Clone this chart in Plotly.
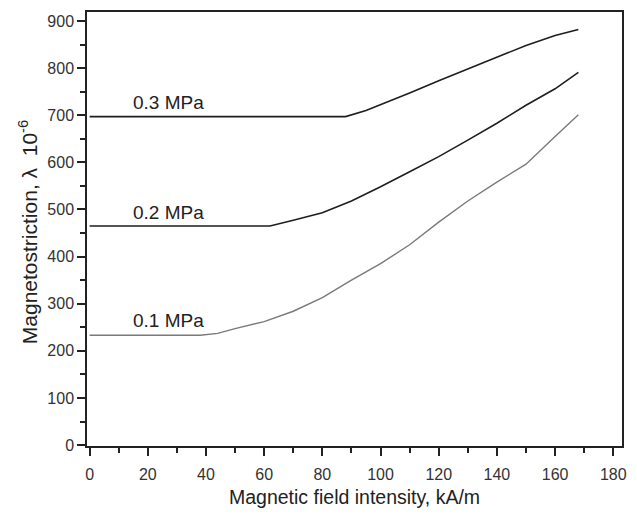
import plotly.graph_objects as go

# Data
x_03 = [0, 88, 95, 100, 110, 120, 130, 140, 150, 160, 168]
y_03 = [697, 697, 710, 722, 747, 773, 798, 822, 848, 869, 882]

x_02 = [0, 62, 70, 80, 90, 100, 110, 120, 130, 140, 150, 160, 168]
y_02 = [465, 465, 477, 493, 518, 548, 580, 612, 647, 683, 721, 756, 791]

x_01 = [0, 38, 44, 50, 60, 70, 80, 90, 100, 110, 120, 130, 140, 150, 160, 168]
y_01 = [233, 233, 237, 247, 262, 284, 313, 350, 385, 425, 473, 518, 558, 596, 655, 701]

labels = ["0.3 MPa", "0.2 MPa", "0.1 MPa"]
label_x = [14.3, 14.3, 14.3]
label_y = [727, 494, 264]

FONT = "Liberation Sans, Arial, sans-serif"
DARK = "#222222"

fig = go.Figure()
fig.add_trace(go.Scatter(x=x_03, y=y_03, mode="lines",
                         line=dict(color="#1e1e1e", width=1.6), showlegend=False))
fig.add_trace(go.Scatter(x=x_02, y=y_02, mode="lines",
                         line=dict(color="#1e1e1e", width=1.6), showlegend=False))
fig.add_trace(go.Scatter(x=x_01, y=y_01, mode="lines",
                         line=dict(color="#7a7a7a", width=1.4), showlegend=False))

for t, lx, ly in zip(labels, label_x, label_y):
    fig.add_annotation(x=lx, y=ly, text=t, showarrow=False, xanchor="left",
                       yanchor="middle", font=dict(family=FONT, size=19, color=DARK))

axis_common = dict(
    showgrid=False, zeroline=False, showline=True, linecolor=DARK, linewidth=1.5,
    mirror=True, ticks="outside", ticklen=8, tickwidth=1.5, tickcolor=DARK,
    tickfont=dict(family=FONT, size=16, color="#333333"),
)

fig.update_xaxes(range=[-0.9, 183], tick0=0, dtick=20, ticklabelstandoff=5,
                 minor=dict(ticks="outside", ticklen=5, tickwidth=1.5, tickcolor=DARK, dtick=10),
                 **axis_common)
fig.update_yaxes(range=[-2, 919], tick0=0, dtick=100,
                 minor=dict(ticks="outside", ticklen=5, tickwidth=1.5, tickcolor=DARK, dtick=50),
                 **axis_common)

# Axis titles
fig.add_annotation(xref="paper", yref="paper", x=0.5, y=-0.118, yanchor="middle",
                   text="Magnetic field intensity, kA/m", showarrow=False,
                   font=dict(family=FONT, size=19.5, color=DARK))
fig.add_annotation(xref="paper", yref="paper", x=-0.11, y=0.493, xanchor="center",
                   text="Magnetostriction, λ  10<sup>-6</sup>", showarrow=False, textangle=-90,
                   font=dict(family=FONT, size=21, color=DARK))

fig.update_layout(
    width=637, height=514,
    margin=dict(l=87, r=15, t=10, b=68),
    paper_bgcolor="white", plot_bgcolor="white",
)

fig.write_html("out.html", config={"displayModeBar": False},
               post_script="document.body.style.margin='0';document.body.style.overflow='hidden';")
